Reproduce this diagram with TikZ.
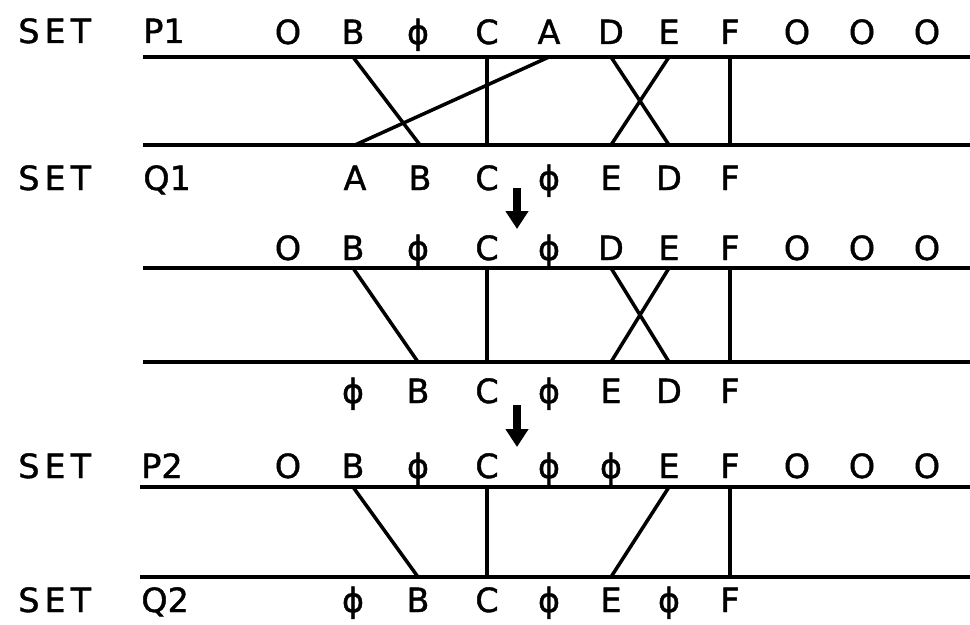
\documentclass[tikz,border=0pt]{standalone}
\usepackage{fontspec}
\setmainfont[FakeBold=1.2]{DejaVu Sans}
\newfontfamily\spacedfont[LetterSpace=15,FakeBold=1.2]{DejaVu Sans}
\usetikzlibrary{arrows.meta}
\newcommand{\nul}{ϕ}
\tikzset{
  lettr/.style={anchor=base, inner sep=0pt, font=\fontsize{19}{22}\selectfont},
  setlabel/.style={anchor=base west, inner sep=0pt, font=\spacedfont\fontsize{19}{22}\selectfont},
  setname/.style={anchor=base west, inner sep=0pt, font=\fontsize{19}{22}\selectfont},
  track/.style={line width=2.2pt},
  link/.style={line width=2pt},
  stepdown/.style={-{Triangle[length=3.6mm,width=4.4mm]}, line width=4pt},
}

\begin{document}
\begin{tikzpicture}[x=0.02cm, y=-0.02cm]
  \useasboundingbox (0,0) rectangle (970,625);

  % set names
  \node[setlabel] (set1) at (18,43) {SET};
  \node[setname] (p1) at (143,43) {P1};
  \node[setlabel] (set2) at (18,190) {SET};
  \node[setname] (q1) at (143,190) {Q1};
  \node[setlabel] (set3) at (18,478) {SET};
  \node[setname] (p2) at (141,478) {P2};
  \node[setlabel] (set4) at (18,612) {SET};
  \node[setname] (q2) at (141,612) {Q2};

  % tracks
  \coordinate (top1) at (143,57);  \coordinate (top1e) at (970,57);
  \coordinate (bot1) at (143,145); \coordinate (bot1e) at (970,145);
  \coordinate (top2) at (143,268); \coordinate (top2e) at (970,268);
  \coordinate (bot2) at (143,362); \coordinate (bot2e) at (970,362);
  \coordinate (top3) at (140,487); \coordinate (top3e) at (970,487);
  \coordinate (bot3) at (140,577); \coordinate (bot3e) at (970,577);
  \foreach \a in {top1,bot1,top2,bot2,top3,bot3}
    \draw[track] (\a) -- (\a e);

  % first pass
  \foreach \l/\x [count=\i] in {O/288,B/353,\nul/418,C/487,A/549,D/611,E/669,F/730,O/797,O/862,O/927}
    \node[lettr] (pa-\i) at (\x,44) {\l};
  \foreach \l/\x [count=\i] in {A/355,B/420,C/487,\nul/549,E/611,D/669,F/730}
    \node[lettr] (qa-\i) at (\x,190) {\l};
  \draw[link] (pa-2 |- top1) -- (qa-2 |- bot1);
  \draw[link] (pa-5 |- top1) -- (qa-1 |- bot1);
  \draw[link] (pa-4 |- top1) -- (qa-3 |- bot1);
  \draw[link] (pa-6 |- top1) -- (qa-6 |- bot1);
  \draw[link] (pa-7 |- top1) -- (qa-5 |- bot1);
  \draw[link] (pa-8 |- top1) -- (qa-7 |- bot1);

  \coordinate (a1) at (517,188); \coordinate (a1e) at (517,229);
  \draw[stepdown] (a1) -- (a1e);

  % second pass
  \foreach \l/\x [count=\i] in {O/288,B/353,\nul/418,C/487,\nul/549,D/611,E/669,F/730,O/797,O/862,O/927}
    \node[lettr] (pb-\i) at (\x,260) {\l};
  \foreach \l/\x [count=\i] in {\nul/353,B/418,C/487,\nul/549,E/611,D/669,F/730}
    \node[lettr] (qb-\i) at (\x,403) {\l};
  \draw[link] (pb-2 |- top2) -- (qb-2 |- bot2);
  \draw[link] (pb-4 |- top2) -- (qb-3 |- bot2);
  \draw[link] (pb-6 |- top2) -- (qb-6 |- bot2);
  \draw[link] (pb-7 |- top2) -- (qb-5 |- bot2);
  \draw[link] (pb-8 |- top2) -- (qb-7 |- bot2);

  \coordinate (a2) at (517,405); \coordinate (a2e) at (517,447);
  \draw[stepdown] (a2) -- (a2e);

  % third pass
  \foreach \l/\x [count=\i] in {O/288,B/353,\nul/418,C/487,\nul/549,\nul/611,E/669,F/730,O/797,O/862,O/927}
    \node[lettr] (pc-\i) at (\x,478) {\l};
  \foreach \l/\x [count=\i] in {\nul/353,B/418,C/487,\nul/549,E/611,\nul/669,F/730}
    \node[lettr] (qc-\i) at (\x,612) {\l};
  \draw[link] (pc-2 |- top3) -- (qc-2 |- bot3);
  \draw[link] (pc-4 |- top3) -- (qc-3 |- bot3);
  \draw[link] (pc-7 |- top3) -- (qc-5 |- bot3);
  \draw[link] (pc-8 |- top3) -- (qc-7 |- bot3);
\end{tikzpicture}
\end{document}
